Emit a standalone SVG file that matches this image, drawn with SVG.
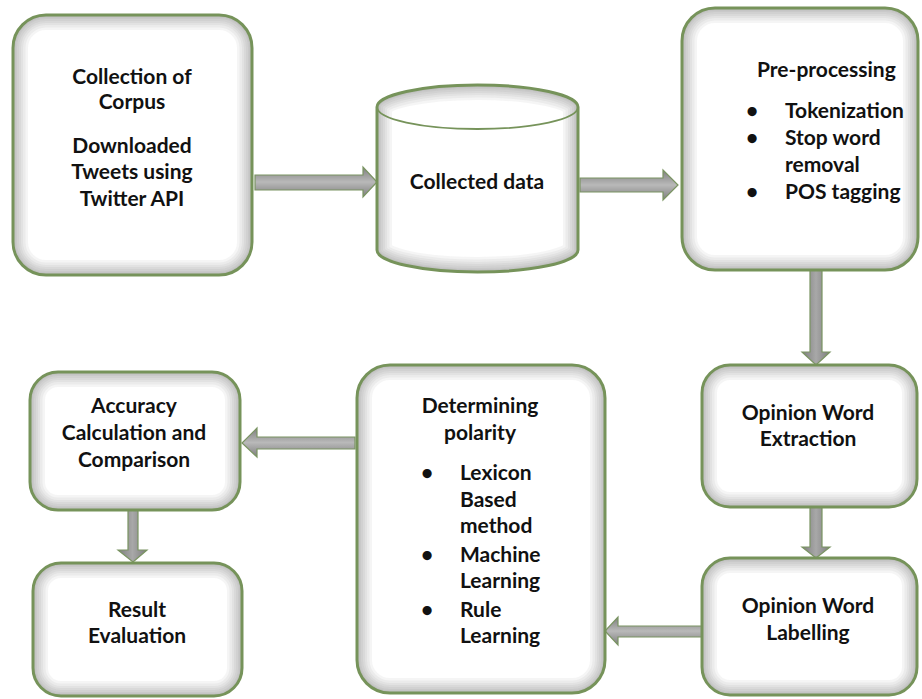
<svg xmlns="http://www.w3.org/2000/svg" width="922" height="699" viewBox="0 0 922 699">
<defs>
<style>
.box{fill:#ffffff;stroke:none}
.edge{fill:none;stroke:#76935a;stroke-width:3}
.s{fill:none;stroke:#404040;stroke-opacity:0.055}
.s1{stroke-width:30}
.s2{stroke-width:25}
.s3{stroke-width:20}
.s4{stroke-width:16}
.s5{stroke-width:12}
.s6{stroke-width:8}
.s7{stroke-width:5}
.t{font-family:Lato,"Open Sans","DejaVu Sans",sans-serif;font-weight:bold;font-size:21px;fill:#111}
.c{text-anchor:middle}
.arrH{fill:url(#gH);stroke:#7a9462;stroke-width:1.2}
.arrV{fill:url(#gV);stroke:#7a9462;stroke-width:1.2}
</style>
<rect id="r1" x="13" y="15" width="239" height="260" rx="33"/>
<path id="r2" d="M377,107 A100.5,22 0 0 1 578,107 L578,250 A100.5,22 0 0 1 377,250 Z"/>
<rect id="r3" x="682" y="8" width="236" height="262" rx="33"/>
<rect id="r4" x="702" y="365" width="215" height="142" rx="28"/>
<rect id="r5" x="702" y="558" width="215" height="137" rx="28"/>
<rect id="r6" x="357" y="365" width="248" height="328" rx="33"/>
<rect id="r7" x="30" y="372" width="210" height="138" rx="28"/>
<rect id="r8" x="33" y="563" width="209" height="133" rx="28"/>
<clipPath id="c1"><use href="#r1"/></clipPath>
<clipPath id="c2"><use href="#r2"/></clipPath>
<clipPath id="c3"><use href="#r3"/></clipPath>
<clipPath id="c4"><use href="#r4"/></clipPath>
<clipPath id="c5"><use href="#r5"/></clipPath>
<clipPath id="c6"><use href="#r6"/></clipPath>
<clipPath id="c7"><use href="#r7"/></clipPath>
<clipPath id="c8"><use href="#r8"/></clipPath>
<linearGradient id="gH" x1="0" y1="0" x2="0" y2="1">
<stop offset="0" stop-color="#7d7d7d"/>
<stop offset="0.5" stop-color="#b9b9b9"/>
<stop offset="1" stop-color="#7d7d7d"/>
</linearGradient>
<linearGradient id="gV" x1="0" y1="0" x2="1" y2="0">
<stop offset="0" stop-color="#7d7d7d"/>
<stop offset="0.5" stop-color="#a8a8a8"/>
<stop offset="1" stop-color="#7d7d7d"/>
</linearGradient>
</defs>
<rect width="922" height="699" fill="#ffffff"/>

<g id="connectors">
<polygon class="arrH" points="255,175 363,175 363,167 377,182 363,197 363,190 255,190"/>
<polygon class="arrH" points="580,178 663,178 663,170 678,185 663,200 663,192 580,192"/>
<polygon class="arrV" points="810,270 822,270 822,352 830,352 816,365 802,352 810,352"/>
<polygon class="arrV" points="810,507 822,507 822,547 830,547 816,558 802,547 810,547"/>
<polygon class="arrH" points="702,626 618,626 618,617 605,631 618,645 618,637 702,637"/>
<polygon class="arrH" points="355,437 257,437 257,428 242,443 257,457 257,449 355,449"/>
<polygon class="arrV" points="128,510 138,510 138,550 147,550 133,562 118,550 128,550"/>
</g>

<g id="collection">
<use href="#r1" class="box"/>
<g clip-path="url(#c1)"><use href="#r1" class="s s1"/><use href="#r1" class="s s2"/><use href="#r1" class="s s3"/><use href="#r1" class="s s4"/><use href="#r1" class="s s5"/><use href="#r1" class="s s6"/><use href="#r1" class="s s7"/></g>
<use href="#r1" class="edge"/>
<text class="t c" x="132" y="84">Collection of</text>
<text class="t c" x="132" y="109">Corpus</text>
<text class="t c" x="132" y="153">Downloaded</text>
<text class="t c" x="132" y="179">Tweets using</text>
<text class="t c" x="132" y="206">Twitter API</text>
</g>

<g id="collected-data">
<use href="#r2" class="box"/>
<g clip-path="url(#c2)"><use href="#r2" class="s s1"/><use href="#r2" class="s s2"/><use href="#r2" class="s s3"/><use href="#r2" class="s s4"/><use href="#r2" class="s s5"/><use href="#r2" class="s s6"/><use href="#r2" class="s s7"/></g>
<use href="#r2" class="edge"/>
<path d="M377,107 A100.5,22 0 0 0 578,107" fill="none" stroke="#76935a" stroke-width="1.8"/>
<text class="t c" x="477" y="189">Collected data</text>
</g>

<g id="preprocessing">
<use href="#r3" class="box"/>
<g clip-path="url(#c3)"><use href="#r3" class="s s1"/><use href="#r3" class="s s2"/><use href="#r3" class="s s3"/><use href="#r3" class="s s4"/><use href="#r3" class="s s5"/><use href="#r3" class="s s6"/><use href="#r3" class="s s7"/></g>
<use href="#r3" class="edge"/>
<text class="t" x="757" y="77">Pre-processing</text>
<text class="t c" x="752" y="118">•</text>
<text class="t" x="785" y="118">Tokenization</text>
<text class="t c" x="752" y="145">•</text>
<text class="t" x="785" y="145">Stop word</text>
<text class="t" x="785" y="172">removal</text>
<text class="t c" x="752" y="199">•</text>
<text class="t" x="785" y="199">POS tagging</text>
</g>

<g id="extraction">
<use href="#r4" class="box"/>
<g clip-path="url(#c4)"><use href="#r4" class="s s1"/><use href="#r4" class="s s2"/><use href="#r4" class="s s3"/><use href="#r4" class="s s4"/><use href="#r4" class="s s5"/><use href="#r4" class="s s6"/><use href="#r4" class="s s7"/></g>
<use href="#r4" class="edge"/>
<text class="t c" x="808" y="420">Opinion Word</text>
<text class="t c" x="808" y="446">Extraction</text>
</g>

<g id="labelling">
<use href="#r5" class="box"/>
<g clip-path="url(#c5)"><use href="#r5" class="s s1"/><use href="#r5" class="s s2"/><use href="#r5" class="s s3"/><use href="#r5" class="s s4"/><use href="#r5" class="s s5"/><use href="#r5" class="s s6"/><use href="#r5" class="s s7"/></g>
<use href="#r5" class="edge"/>
<text class="t c" x="808" y="613">Opinion Word</text>
<text class="t c" x="808" y="640">Labelling</text>
</g>

<g id="polarity">
<use href="#r6" class="box"/>
<g clip-path="url(#c6)"><use href="#r6" class="s s1"/><use href="#r6" class="s s2"/><use href="#r6" class="s s3"/><use href="#r6" class="s s4"/><use href="#r6" class="s s5"/><use href="#r6" class="s s6"/><use href="#r6" class="s s7"/></g>
<use href="#r6" class="edge"/>
<text class="t c" x="480" y="413">Determining</text>
<text class="t c" x="480" y="440">polarity</text>
<text class="t c" x="427" y="480">•</text>
<text class="t" x="460" y="480">Lexicon</text>
<text class="t" x="460" y="507">Based</text>
<text class="t" x="460" y="533">method</text>
<text class="t c" x="427" y="562">•</text>
<text class="t" x="460" y="562">Machine</text>
<text class="t" x="460" y="588">Learning</text>
<text class="t c" x="427" y="617">•</text>
<text class="t" x="460" y="617">Rule</text>
<text class="t" x="460" y="643">Learning</text>
</g>

<g id="accuracy">
<use href="#r7" class="box"/>
<g clip-path="url(#c7)"><use href="#r7" class="s s1"/><use href="#r7" class="s s2"/><use href="#r7" class="s s3"/><use href="#r7" class="s s4"/><use href="#r7" class="s s5"/><use href="#r7" class="s s6"/><use href="#r7" class="s s7"/></g>
<use href="#r7" class="edge"/>
<text class="t c" x="134" y="413">Accuracy</text>
<text class="t c" x="134" y="440">Calculation and</text>
<text class="t c" x="134" y="467">Comparison</text>
</g>

<g id="result">
<use href="#r8" class="box"/>
<g clip-path="url(#c8)"><use href="#r8" class="s s1"/><use href="#r8" class="s s2"/><use href="#r8" class="s s3"/><use href="#r8" class="s s4"/><use href="#r8" class="s s5"/><use href="#r8" class="s s6"/><use href="#r8" class="s s7"/></g>
<use href="#r8" class="edge"/>
<text class="t c" x="137" y="617">Result</text>
<text class="t c" x="137" y="643">Evaluation</text>
</g>
</svg>
